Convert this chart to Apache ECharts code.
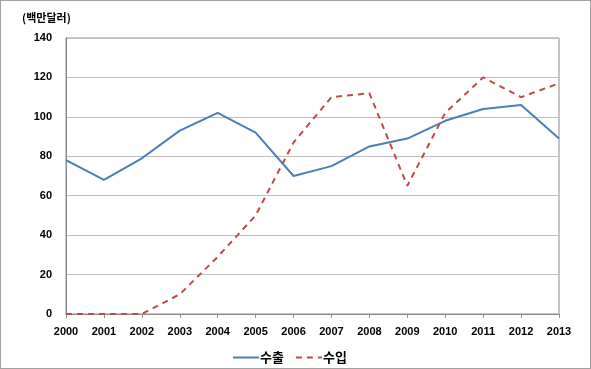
<!DOCTYPE html>
<html><head><meta charset="utf-8">
<script src="https://cdn.jsdelivr.net/npm/echarts@6/dist/echarts.min.js"></script>
<style>
html,body{margin:0;padding:0;background:#fff;}
#c{width:591px;height:369px;box-sizing:border-box;border:1px solid #a0a0a0;}
</style></head>
<body><div id="c"></div>
<script>
const years = ['2000','2001','2002','2003','2004','2005','2006','2007','2008','2009','2010','2011','2012','2013'];
const exportVals = [78, 68, 79, 93, 102, 92, 70, 75, 85, 89, 98, 104, 106, 89];
const importVals = [0, 0, 0, 10, 29, 50, 87, 110, 112, 65, 102, 120, 110, 117];
const seriesNames = ['수출', '수입'];
const unitLabel = '(백만달러)';

const chart = echarts.init(document.getElementById('c'), null, {renderer:'canvas'});
const fontNum = '"Liberation Sans", Arial, sans-serif';
const fontKr = '"Noto Sans CJK KR", sans-serif';
chart.setOption({
  animation:false,
  grid:{left:65, right:31, top:37, bottom:54, show:true, borderColor:'#8c8c8c', borderWidth:1, backgroundColor:'transparent'},
  graphic:[{type:'text', left:21, top:11, style:{text:unitLabel, font:'bold 11px '+fontKr, fill:'#000'}}],
  legend:{
    left:226, top:345, itemWidth:26, itemHeight:14, itemGap:11,
    itemStyle:{opacity:0},
    textStyle:{fontFamily:fontKr, fontSize:13, fontWeight:'bold', color:'#000', padding:[0,0,0,-4]},
    data:seriesNames
  },
  xAxis:{
    type:'category', data:years, boundaryGap:false,
    axisLine:{lineStyle:{color:'#8c8c8c', width:1}},
    axisTick:{show:true, length:4, lineStyle:{color:'#8c8c8c'}},
    axisLabel:{fontFamily:fontNum, fontWeight:'bold', fontSize:11, color:'#000', margin:12}
  },
  yAxis:{
    type:'value', min:0, max:140, interval:20,
    axisLine:{show:true, lineStyle:{color:'#8c8c8c', width:1}},
    axisTick:{show:false},
    splitLine:{lineStyle:{color:'#bdbdbd', width:1}},
    axisLabel:{fontFamily:fontNum, fontWeight:'bold', fontSize:11, color:'#000', margin:14}
  },
  series:[
    {name:seriesNames[0], type:'line', data:exportVals, symbol:'none',
     lineStyle:{color:'#4a7ebb', width:2}, itemStyle:{color:'#4a7ebb'}},
    {name:seriesNames[1], type:'line', data:importVals, symbol:'none',
     lineStyle:{color:'#be4b48', width:2, type:[6,5]}, itemStyle:{color:'#be4b48'}}
  ]
});
</script></body></html>
